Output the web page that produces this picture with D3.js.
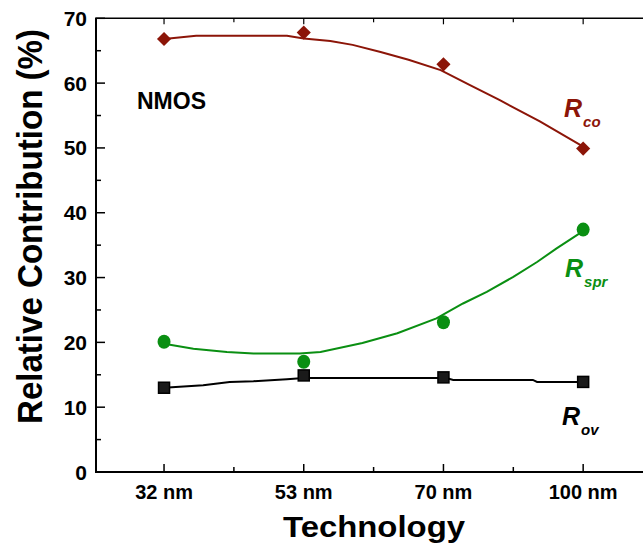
<!DOCTYPE html>
<html><head><meta charset="utf-8">
<script src="https://cdn.jsdelivr.net/npm/d3@7"></script>
<style>
html,body{margin:0;padding:0;background:#fff;}
svg{display:block;font-family:"Liberation Sans",Arial,Helvetica,sans-serif;}
</style></head>
<body><svg id="c" width="643" height="547"></svg>
<script>
// ---- data ----
const categories = ["32 nm", "53 nm", "70 nm", "100 nm"];
const rco = [66.8, 67.8, 62.9, 49.9];
const rspr = [20.1, 17.0, 23.1, 37.4];
const rov = [13.0, 14.9, 14.6, 13.9];
// fitted trend curves: [category index position, value]
const rcoFit = [[0,66.8],[0.23,67.3],[0.88,67.3],[1.0,66.9],[1.19,66.5],[1.35,65.9],[1.55,64.8],[1.75,63.6],[1.98,62.0],[2.19,59.7],[2.4,57.4],[2.69,54.1],[3.0,50.2]];
const rsprFit = [[0,19.8],[0.21,19.0],[0.45,18.5],[0.64,18.3],[0.97,18.3],[1.12,18.5],[1.42,19.9],[1.67,21.4],[1.95,23.7],[2.14,26.0],[2.31,27.8],[2.5,30.1],[2.67,32.4],[2.81,34.5],[2.98,36.9]];
const rovFit = [[0,13.0],[0.28,13.4],[0.47,13.9],[0.64,14.0],[0.88,14.3],[1.0,14.5],[2.02,14.5],[2.07,14.2],[2.64,14.2],[2.67,13.9],[3.0,13.9]];
const yTicks = [0,10,20,30,40,50,60,70];
const yMinor = [5,15,25,35,45,55,65];
const xMinor = [0.5,1.5,2.5];

const svg = d3.select("#c");
const x = d3.scaleLinear().domain([-0.487, 3.55]).range([96, 660]);
const y = d3.scaleLinear().domain([0, 70]).range([472, 18.3]);

const cRed = "#8c1508", cGreen = "#0a8f12", cBlack = "#000";

// frame
const g = svg.append("g");
g.append("line").attr("x1",96).attr("x2",96).attr("y1",y(0)).attr("y2",y(70)).attr("stroke","#000").attr("stroke-width",2);
g.append("line").attr("x1",95).attr("x2",660).attr("y1",y(0)).attr("y2",y(0)).attr("stroke","#000").attr("stroke-width",2);
g.append("line").attr("x1",95).attr("x2",660).attr("y1",y(70)).attr("y2",y(70)).attr("stroke","#000").attr("stroke-width",1.5);

// y ticks
yTicks.forEach(v=>{
  g.append("line").attr("x1",96).attr("x2",105).attr("y1",y(v)).attr("y2",y(v)).attr("stroke","#000").attr("stroke-width",1.5);
  g.append("text").attr("x",87).attr("y",y(v)).attr("dy","0.36em").attr("text-anchor","end")
   .attr("font-size",21).attr("font-weight","bold").text(v);
});
yMinor.forEach(v=>{
  g.append("line").attr("x1",96).attr("x2",101).attr("y1",y(v)).attr("y2",y(v)).attr("stroke","#000").attr("stroke-width",1.5);
});
// x ticks
categories.forEach((c,i)=>{
  g.append("line").attr("x1",x(i)).attr("x2",x(i)).attr("y1",y(0)).attr("y2",y(0)-8).attr("stroke","#000").attr("stroke-width",1.5);
  g.append("line").attr("x1",x(i)).attr("x2",x(i)).attr("y1",y(70)).attr("y2",y(70)+6).attr("stroke","#000").attr("stroke-width",1.2);
  g.append("text").attr("x",x(i)).attr("y",499).attr("text-anchor","middle")
   .attr("font-size",20).attr("font-weight","bold").text(c);
});
xMinor.forEach(v=>{
  g.append("line").attr("x1",x(v)).attr("x2",x(v)).attr("y1",y(0)).attr("y2",y(0)-5).attr("stroke","#000").attr("stroke-width",1.5);
  g.append("line").attr("x1",x(v)).attr("x2",x(v)).attr("y1",y(70)).attr("y2",y(70)+4).attr("stroke","#000").attr("stroke-width",1.2);
});

// axis titles
svg.append("text").attr("x",374).attr("y",537).attr("text-anchor","middle")
  .attr("font-size",30).attr("font-weight","bold").attr("textLength",182).attr("lengthAdjust","spacingAndGlyphs").text("Technology");
svg.append("text").attr("transform","translate(42,226.5) rotate(-90)").attr("text-anchor","middle")
  .attr("font-size",35).attr("font-weight","bold").attr("textLength",395).attr("lengthAdjust","spacingAndGlyphs").text("Relative Contribution (%)");

// fit lines
const line = d3.line().x(d=>x(d[0])).y(d=>y(d[1]));
svg.append("path").datum(rcoFit).attr("d",line).attr("fill","none").attr("stroke",cRed).attr("stroke-width",2);
svg.append("path").datum(rsprFit).attr("d",line).attr("fill","none").attr("stroke",cGreen).attr("stroke-width",2);
svg.append("path").datum(rovFit).attr("d",line).attr("fill","none").attr("stroke",cBlack).attr("stroke-width",2);

// markers
svg.selectAll(".co").data(rco).enter().append("path")
  .attr("d",d3.symbol().type(d3.symbolSquare).size(100))
  .attr("transform",(d,i)=>`translate(${x(i)},${y(d)}) rotate(45)`).attr("fill",cRed);
svg.selectAll(".spr").data(rspr).enter().append("ellipse")
  .attr("cx",(d,i)=>x(i)).attr("cy",d=>y(d)).attr("rx",6.5).attr("ry",7).attr("fill",cGreen);
svg.selectAll(".ov").data(rov).enter().append("rect")
  .attr("x",(d,i)=>x(i)-5.5).attr("y",d=>y(d)-5.5).attr("width",11).attr("height",11)
  .attr("fill","#1a1a1a").attr("stroke","#000").attr("stroke-width",1.5);

// labels
svg.append("text").attr("x",137).attr("y",109).attr("font-size",23).attr("font-weight","bold").text("NMOS");
function rlabel(xp, yp, sub, color){
  const t = svg.append("text").attr("x",xp).attr("y",yp).attr("fill",color)
    .attr("font-weight","bold").attr("font-style","italic");
  t.append("tspan").attr("font-size",25).text("R");
  t.append("tspan").attr("font-size",15).attr("dy",10).attr("dx",1).text(sub);
}
rlabel(564,117,"co",cRed);
rlabel(565,277,"spr",cGreen);
rlabel(562,425,"ov",cBlack);
</script></body></html>
